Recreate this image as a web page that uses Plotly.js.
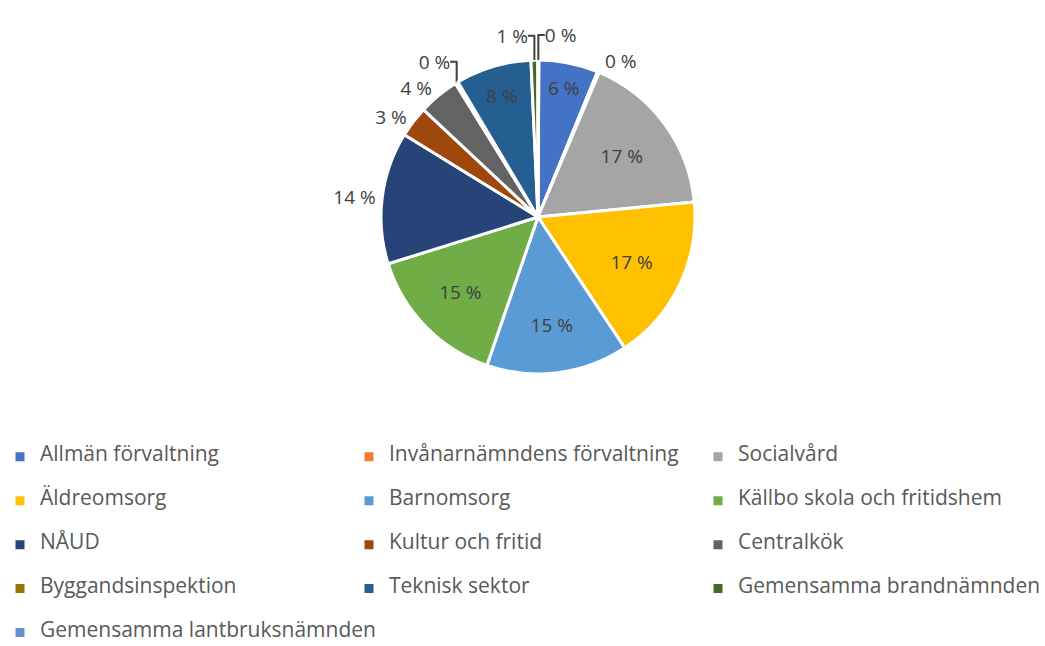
<!DOCTYPE html>
<html>
<head>
<meta charset="utf-8">
<script src="https://cdn.plot.ly/plotly-3.0.1.min.js"></script>
<style>html,body{margin:0;padding:0;background:#fff;}#chart{width:1045px;height:646px;}</style>
</head>
<body>
<div id="chart"></div>
<script>
const categories = ["Allmän förvaltning","Invånarnämndens förvaltning","Socialvård","Äldreomsorg","Barnomsorg","Källbo skola och fritidshem","NÅUD","Kultur och fritid","Centralkök","Byggandsinspektion","Teknisk sektor","Gemensamma brandnämnden","Gemensamma lantbruksnämnden"];
const shares = [6.1, 0.2, 17.1, 17.2, 14.6, 14.9, 13.6, 3.2, 4.2, 0.3, 7.8, 0.7, 0.1];
const colors = ["#4472C4","#ED7D31","#A5A5A5","#FFC000","#5B9BD5","#70AD47","#264478","#9E480E","#636363","#997300","#255E91","#43682B","#698ED0"];
const labelPos = ["inside","outside","inside","inside","inside","inside","outside","outside","outside","outside","inside","outside","outside"];

const pctText = shares.map(v => Math.round(v) + " %");
// two empty lines above the visible text give each legend row its height
const legendLabels = categories.map(c => ' <br> <br><span style="font-size:21px">' + c + '</span>');

const trace = {
  type: "pie",
  labels: legendLabels,
  values: shares,
  text: pctText,
  textinfo: "text",
  textposition: labelPos,
  insidetextorientation: "horizontal",
  sort: false,
  direction: "clockwise",
  rotation: 0.3,
  marker: {colors: colors, line: {color: "#ffffff", width: 3}},
  textfont: {family: "Open Sans, sans-serif", size: 19, color: "#404040"},
  outsidetextfont: {family: "Open Sans, sans-serif", size: 19, color: "#404040"},
  insidetextfont: {family: "Open Sans, sans-serif", size: 19, color: "#404040"},
  domain: {x: [381/1045, 695/1045], y: [1 - 374/646, 1 - 60/646]},
  hoverinfo: "none"
};

const layout = {
  width: 1045, height: 646,
  margin: {l: 0, r: 0, t: 0, b: 0},
  paper_bgcolor: "#ffffff",
  showlegend: true,
  font: {family: "Open Sans, sans-serif", color: "#595959"},
  legend: {
    orientation: "h",
    x: 0, xanchor: "left",
    y: 1 - 416/646, yanchor: "top",
    valign: "bottom",
    entrywidth: 304, entrywidthmode: "pixels",
    font: {family: "Open Sans, sans-serif", size: 10.51, color: "#595959"},
    traceorder: "normal"
  }
};

Plotly.newPlot("chart", [trace], layout, {displayModeBar: false, staticPlot: true});
</script>
</body>
</html>
